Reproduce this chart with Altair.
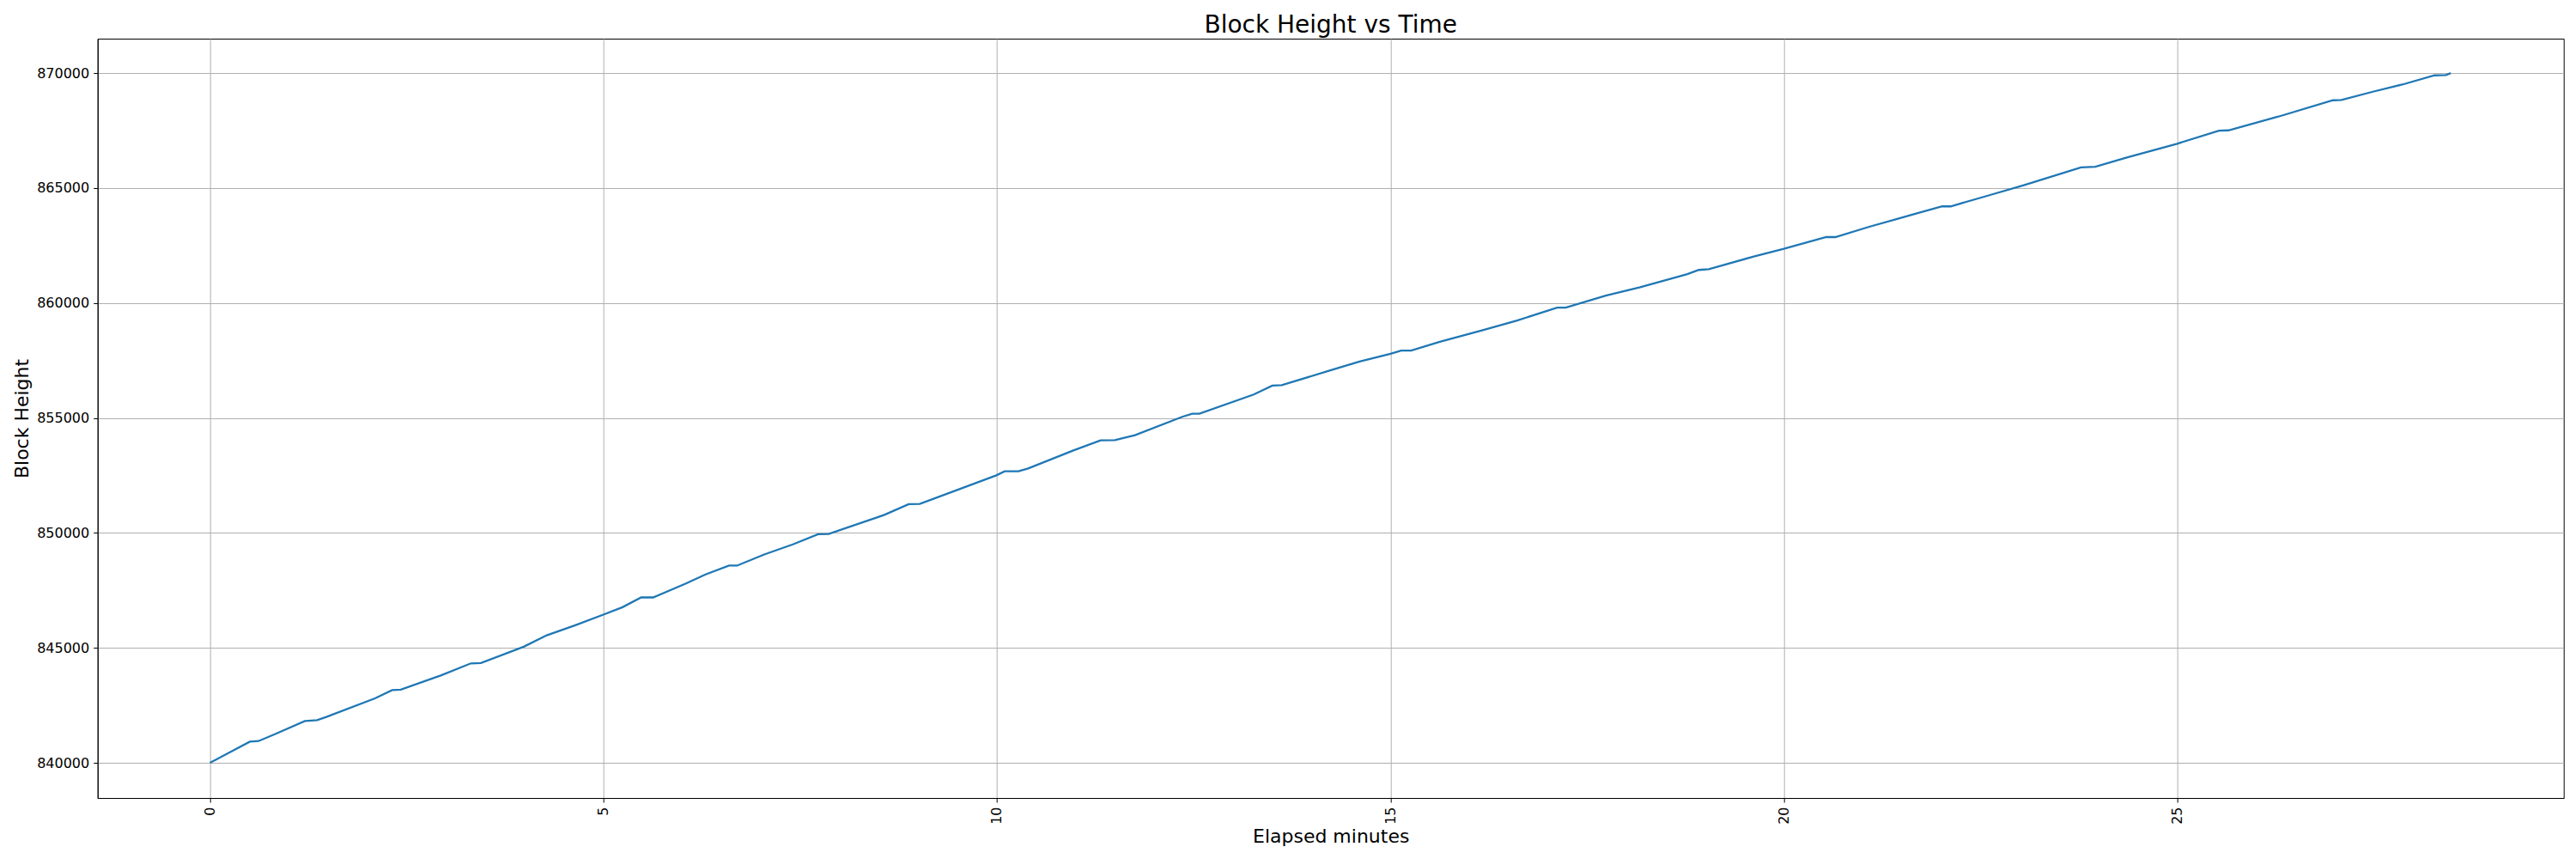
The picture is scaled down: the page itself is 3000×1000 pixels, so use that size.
import altair as alt
import pandas as pd

elapsed_minutes = [0, 0.507, 0.617, 0.824, 1.206, 1.362, 1.479, 2.097, 2.315, 2.425,
                   2.933, 3.315, 3.443, 3.988, 4.28, 4.643, 5.0, 5.243, 5.48, 5.633,
                   6.043, 6.298, 6.596, 6.698, 7.044, 7.407, 7.728, 7.862, 8.57, 8.88,
                   9.02, 9.445, 9.993, 10.099, 10.274, 10.397, 10.972, 11.318, 11.5, 11.755,
                   12.355, 12.482, 12.573, 13.264, 13.50, 13.62, 14.246, 14.609, 15.002, 15.137,
                   15.264, 15.629, 16.174, 16.611, 17.119, 17.228, 17.738, 18.174, 18.774, 18.92,
                   19.047, 19.629, 20.0, 20.539, 20.655, 21.085, 21.593, 22.012, 22.121, 22.612,
                   23.049, 23.776, 23.958, 24.358, 24.998, 25.529, 25.649, 26.285, 26.977, 27.086,
                   27.486, 27.886, 28.268, 28.414, 28.475]

block_height = [840000, 840920, 840946, 841246, 841818, 841855, 841994, 842806, 843165, 843180,
                843801, 844325, 844340, 845050, 845548, 845986, 846446, 846771, 847194, 847194,
                847793, 848193, 848578, 848578, 849064, 849502, 849943, 849955, 850785, 851250,
                851265, 851807, 852506, 852682, 852682, 852806, 853591, 854029, 854040, 854253,
                855050, 855188, 855188, 856023, 856410, 856425, 857081, 857455, 857792, 857931,
                857931, 858316, 858817, 859240, 859801, 859801, 860325, 860688, 861260, 861440,
                861474, 862034, 862356, 862869, 862869, 863318, 863804, 864205, 864205, 864691,
                865125, 865899, 865925, 866332, 866930, 867500, 867512, 868110, 868820, 868834,
                869193, 869529, 869903, 869918, 870000]

x_ticks = [0, 5, 10, 15, 20, 25]
y_ticks = [840000, 845000, 850000, 855000, 860000, 865000, 870000]

df = pd.DataFrame({"t": elapsed_minutes, "h": block_height})

FONT = "DejaVu Sans"

chart = alt.Chart(df).mark_line(color="#1f77b4", strokeWidth=2.3).encode(
    x=alt.X("t:Q",
            scale=alt.Scale(domain=[-1.427, 29.91], nice=False, zero=False),
            axis=alt.Axis(values=x_ticks, title="Elapsed minutes", labelAngle=270,
                          format="d", titlePadding=4)),
    y=alt.Y("h:Q",
            scale=alt.Scale(domain=[838470, 871500], nice=False, zero=False),
            axis=alt.Axis(values=y_ticks, title="Block Height", format="d",
                          titlePadding=5)),
).properties(
    width=2872,
    height=884,
    autosize=alt.AutoSizeParams(type="none"),
    padding={"left": 105.7, "top": 37, "right": 6, "bottom": 63},
    title=alt.TitleParams("Block Height vs Time", fontSize=28, font=FONT,
                          fontWeight="normal", anchor="middle", offset=1, color="black"),
).configure_view(
    stroke="black", strokeWidth=1
).configure_axis(
    labelFont=FONT, labelFontSize=16, labelColor="black",
    titleFont=FONT, titleFontSize=22, titleFontWeight="normal", titleColor="black",
    domainColor="black", domainWidth=1,
    tickColor="black", tickSize=5, tickWidth=1,
    labelPadding=5,
    grid=True, gridColor="#b0b0b0", gridWidth=1,
    labelFlush=False,
)

chart.save("out.html", embed_options={"renderer": "svg", "actions": False})
